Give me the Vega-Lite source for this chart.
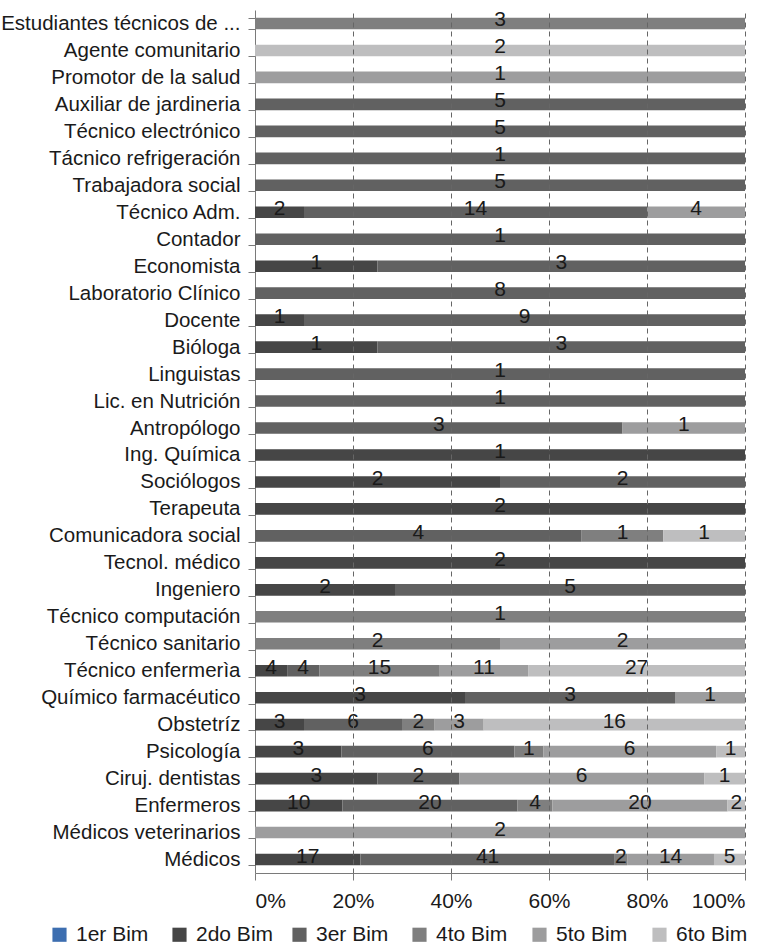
{
  "$schema": "https://vega.github.io/schema/vega-lite/v6.json",
  "autosize": {"type": "none"},
  "width": 490,
  "height": 863,
  "padding": {"left": 255, "top": 10, "right": 29, "bottom": 73},
  "background": "white",
  "config": {
    "font": "Liberation Sans",
    "view": {"stroke": null}
  },
  "data": {
    "values": [
      {"cat": "Estudiantes técnicos de ...", "bim": "4to Bim", "n": 3},
      {"cat": "Agente comunitario", "bim": "6to Bim", "n": 2},
      {"cat": "Promotor de la salud", "bim": "5to Bim", "n": 1},
      {"cat": "Auxiliar de jardineria", "bim": "3er Bim", "n": 5},
      {"cat": "Técnico electrónico", "bim": "3er Bim", "n": 5},
      {"cat": "Tácnico refrigeración", "bim": "3er Bim", "n": 1},
      {"cat": "Trabajadora social", "bim": "3er Bim", "n": 5},
      {"cat": "Técnico Adm.", "bim": "2do Bim", "n": 2},
      {"cat": "Técnico Adm.", "bim": "3er Bim", "n": 14},
      {"cat": "Técnico Adm.", "bim": "5to Bim", "n": 4},
      {"cat": "Contador", "bim": "3er Bim", "n": 1},
      {"cat": "Economista", "bim": "2do Bim", "n": 1},
      {"cat": "Economista", "bim": "3er Bim", "n": 3},
      {"cat": "Laboratorio Clínico", "bim": "3er Bim", "n": 8},
      {"cat": "Docente", "bim": "2do Bim", "n": 1},
      {"cat": "Docente", "bim": "3er Bim", "n": 9},
      {"cat": "Bióloga", "bim": "2do Bim", "n": 1},
      {"cat": "Bióloga", "bim": "3er Bim", "n": 3},
      {"cat": "Linguistas", "bim": "3er Bim", "n": 1},
      {"cat": "Lic. en Nutrición", "bim": "3er Bim", "n": 1},
      {"cat": "Antropólogo", "bim": "3er Bim", "n": 3},
      {"cat": "Antropólogo", "bim": "5to Bim", "n": 1},
      {"cat": "Ing. Química", "bim": "2do Bim", "n": 1},
      {"cat": "Sociólogos", "bim": "2do Bim", "n": 2},
      {"cat": "Sociólogos", "bim": "3er Bim", "n": 2},
      {"cat": "Terapeuta", "bim": "2do Bim", "n": 2},
      {"cat": "Comunicadora social", "bim": "3er Bim", "n": 4},
      {"cat": "Comunicadora social", "bim": "4to Bim", "n": 1},
      {"cat": "Comunicadora social", "bim": "6to Bim", "n": 1},
      {"cat": "Tecnol. médico", "bim": "2do Bim", "n": 2},
      {"cat": "Ingeniero", "bim": "2do Bim", "n": 2},
      {"cat": "Ingeniero", "bim": "3er Bim", "n": 5},
      {"cat": "Técnico computación", "bim": "4to Bim", "n": 1},
      {"cat": "Técnico sanitario", "bim": "4to Bim", "n": 2},
      {"cat": "Técnico sanitario", "bim": "5to Bim", "n": 2},
      {"cat": "Técnico enfermerìa", "bim": "2do Bim", "n": 4},
      {"cat": "Técnico enfermerìa", "bim": "3er Bim", "n": 4},
      {"cat": "Técnico enfermerìa", "bim": "4to Bim", "n": 15},
      {"cat": "Técnico enfermerìa", "bim": "5to Bim", "n": 11},
      {"cat": "Técnico enfermerìa", "bim": "6to Bim", "n": 27},
      {"cat": "Químico farmacéutico", "bim": "2do Bim", "n": 3},
      {"cat": "Químico farmacéutico", "bim": "3er Bim", "n": 3},
      {"cat": "Químico farmacéutico", "bim": "5to Bim", "n": 1},
      {"cat": "Obstetríz", "bim": "2do Bim", "n": 3},
      {"cat": "Obstetríz", "bim": "3er Bim", "n": 6},
      {"cat": "Obstetríz", "bim": "4to Bim", "n": 2},
      {"cat": "Obstetríz", "bim": "5to Bim", "n": 3},
      {"cat": "Obstetríz", "bim": "6to Bim", "n": 16},
      {"cat": "Psicología", "bim": "2do Bim", "n": 3},
      {"cat": "Psicología", "bim": "3er Bim", "n": 6},
      {"cat": "Psicología", "bim": "4to Bim", "n": 1},
      {"cat": "Psicología", "bim": "5to Bim", "n": 6},
      {"cat": "Psicología", "bim": "6to Bim", "n": 1},
      {"cat": "Ciruj. dentistas", "bim": "2do Bim", "n": 3},
      {"cat": "Ciruj. dentistas", "bim": "3er Bim", "n": 2},
      {"cat": "Ciruj. dentistas", "bim": "5to Bim", "n": 6},
      {"cat": "Ciruj. dentistas", "bim": "6to Bim", "n": 1},
      {"cat": "Enfermeros", "bim": "2do Bim", "n": 10},
      {"cat": "Enfermeros", "bim": "3er Bim", "n": 20},
      {"cat": "Enfermeros", "bim": "4to Bim", "n": 4},
      {"cat": "Enfermeros", "bim": "5to Bim", "n": 20},
      {"cat": "Enfermeros", "bim": "6to Bim", "n": 2},
      {"cat": "Médicos veterinarios", "bim": "5to Bim", "n": 2},
      {"cat": "Médicos", "bim": "2do Bim", "n": 17},
      {"cat": "Médicos", "bim": "3er Bim", "n": 41},
      {"cat": "Médicos", "bim": "4to Bim", "n": 2},
      {"cat": "Médicos", "bim": "5to Bim", "n": 14},
      {"cat": "Médicos", "bim": "6to Bim", "n": 5}
    ]
  },
  "transform": [
    {"stack": "n", "groupby": ["cat"], "sort": [{"field": "bim", "order": "ascending"}], "as": ["v0", "v1"], "offset": "normalize"},
    {"calculate": "(datum.v0 + datum.v1) / 2", "as": "mid"}
  ],
  "encoding": {
    "y": {
      "field": "cat",
      "type": "nominal",
      "sort": ["Estudiantes técnicos de ...", "Agente comunitario", "Promotor de la salud", "Auxiliar de jardineria", "Técnico electrónico", "Tácnico refrigeración", "Trabajadora social", "Técnico Adm.", "Contador", "Economista", "Laboratorio Clínico", "Docente", "Bióloga", "Linguistas", "Lic. en Nutrición", "Antropólogo", "Ing. Química", "Sociólogos", "Terapeuta", "Comunicadora social", "Tecnol. médico", "Ingeniero", "Técnico computación", "Técnico sanitario", "Técnico enfermerìa", "Químico farmacéutico", "Obstetríz", "Psicología", "Ciruj. dentistas", "Enfermeros", "Médicos veterinarios", "Médicos"],
      "scale": {"paddingInner": 0.57, "paddingOuter": 0.285},
      "axis": {
        "title": null,
        "tickBand": "extent",
        "tickSize": 7,
        "tickColor": "#7a7a7a",
        "domainColor": "#7a7a7a",
        "labelFontSize": 20.5,
        "labelColor": "#1a1a1a",
        "labelPadding": 8,
        "labelLimit": 0,
        "grid": false
      }
    }
  },
  "layer": [
    {
      "mark": {"type": "bar"},
      "encoding": {
        "x": {
          "field": "v0",
          "type": "quantitative",
          "scale": {"domain": [0, 1], "nice": false},
          "axis": {
            "title": null,
            "values": [0, 0.2, 0.4, 0.6, 0.8, 1],
            "format": ".0%",
            "grid": true,
            "gridDash": [5, 4],
            "gridColor": "#666666",
            "gridOpacity": {"condition": {"test": "datum.value === 0", "value": 0}, "value": 1},
            "tickSize": 7,
            "tickColor": "#7a7a7a",
            "domainColor": "#7a7a7a",
            "labelFontSize": 21,
            "labelColor": "#1a1a1a",
            "labelPadding": 10,
            "zindex": 1
          }
        },
        "x2": {"field": "v1"},
        "color": {
          "field": "bim",
          "type": "nominal",
          "scale": {
            "domain": ["1er Bim", "2do Bim", "3er Bim", "4to Bim", "5to Bim", "6to Bim"],
            "range": ["#3d6eb0", "#464646", "#616161", "#7f7f7f", "#9d9d9e", "#bebebf"]
          },
          "legend": {
            "title": null,
            "orient": "none",
            "legendX": -206,
            "legendY": 914,
            "direction": "horizontal",
            "columns": 6,
            "gridAlign": "all",
            "columnPadding": 15,
            "padding": 0,
            "symbolType": "square",
            "symbolSize": 200,
            "symbolStrokeWidth": 0,
            "labelFontSize": 21,
            "labelColor": "#1a1a1a",
            "labelOffset": 6
          }
        }
      }
    },
    {
      "mark": {"type": "text", "fontSize": 21, "baseline": "middle", "dy": -3, "color": "#1a1a1a"},
      "encoding": {
        "x": {"field": "mid", "type": "quantitative"},
        "text": {"field": "n", "type": "quantitative"}
      }
    }
  ]
}
